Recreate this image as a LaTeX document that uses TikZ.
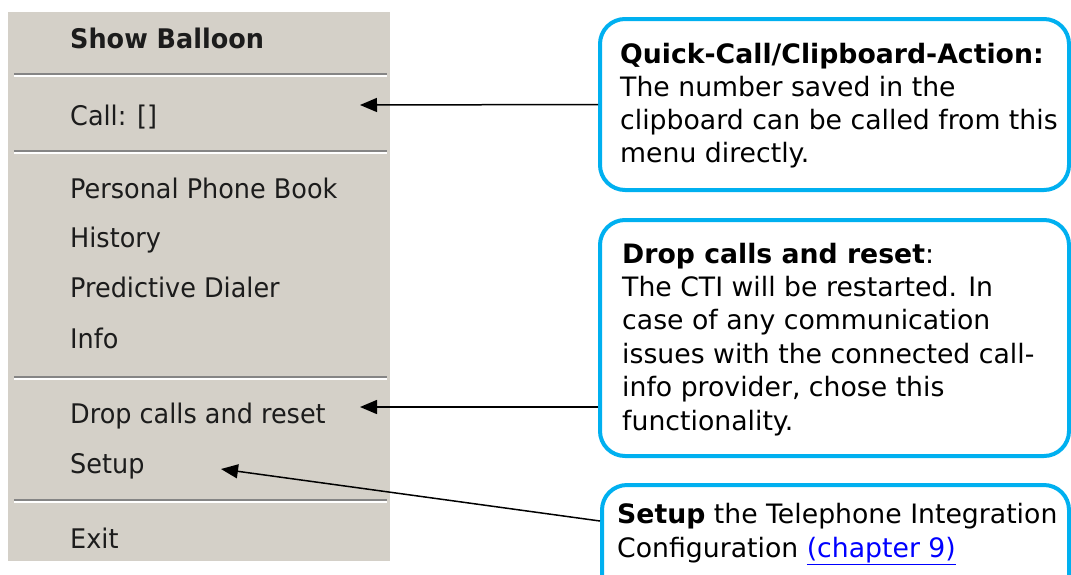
\documentclass[tikz,border=0pt]{standalone}
\usepackage{fontspec}
\setmainfont{DejaVu Sans}
\newfontfamily\menufont[FakeStretch=0.945]{DejaVu Sans}
\usetikzlibrary{arrows.meta}
\definecolor{menugray}{HTML}{D4D0C8}
\definecolor{sepdark}{HTML}{858585}
\definecolor{calloutblue}{HTML}{00B0F0}
\definecolor{linkblue}{HTML}{0000FF}
\definecolor{menutext}{HTML}{1C1C1C}
\newcommand{\linktext}[1]{{\color{linkblue}\underline{#1}}}
\begin{document}
\begin{tikzpicture}[x=1pt,y=-1pt,
  item/.style={anchor=base west, inner sep=0pt, text=menutext,
    font=\menufont\fontsize{27}{32}\selectfont},
  separator/.style={line width=1.6pt},
  callout/.style={draw=calloutblue, line width=4pt, rounded corners=25pt, fill=white, inner sep=0pt},
  notetext/.style={anchor=base west, inner sep=0pt, text=black},
  pointer/.style={draw=black, line width=1.5pt, -{Triangle[length=17pt,width=14pt]}}
]
\useasboundingbox (0,0) rectangle (1071,574);
\fill[white] (0,0) rectangle (1071,574);

% menu panel
\node[fill=menugray, minimum width=382pt, minimum height=549pt, inner sep=0pt, outer sep=0pt, anchor=north west] (menu) at (8,12) {};

\foreach \y in {74,151,377,500}{
  \draw[separator, sepdark] (14,\y) -- (387,\y);
  \draw[separator, white] (14,\y+2) -- (387,\y+2);
}

\node[item, font=\menufont\bfseries\fontsize{27}{32}\selectfont] (show) at (70,48) {Show Balloon};
\node[item] (call) at (70,125) {Call: []};
\node[item] (phone) at (70,198) {Personal Phone Book};
\node[item] (hist) at (70,247) {History};
\node[item] (pred) at (70,297) {Predictive Dialer};
\node[item] (info) at (70,348) {Info};
\node[item] (drop) at (70,423) {Drop calls and reset};
\node[item] (setup) at (70,473) {Setup};
\node[item] (exit) at (70,548) {Exit};

% arrow targets in the menu
\coordinate (calltip) at (360,105);
\coordinate (droptip) at (360,407);
\coordinate (setuptip) at (221,469);

% callout boxes
\node[callout, minimum width=469pt, minimum height=171pt] (qc) at (834.5,104.5) {};
\node[callout, minimum width=469pt, minimum height=236pt] (dr) at (834.5,338) {};
\node[callout, minimum width=467pt, minimum height=155pt] (su) at (835.5,562.5) {};

\node[notetext] (qctext) at (620,63) {\fontsize{26.7}{33.2}\selectfont
  \begin{minipage}[t]{450pt}\raggedright
  \textbf{Quick-Call/Clipboard-Action:}\\
  The number saved in the\\
  clipboard can be called from this\\
  menu directly.
  \end{minipage}};

\node[notetext] (drtext) at (622,263) {\fontsize{26.7}{33.4}\selectfont
  \begin{minipage}[t]{450pt}\raggedright
  \textbf{Drop calls and reset}:\\
  The CTI will be restarted. In\\
  case of any communication\\
  issues with the connected call-\\
  info provider, chose this\\
  functionality.
  \end{minipage}};

\node[notetext] (sutext) at (617,523) {\fontsize{26.7}{34}\selectfont
  \begin{minipage}[t]{450pt}\raggedright
  \textbf{Setup} the Telephone Integration\\
  Configuration \linktext{(chapter 9)}
  \end{minipage}};

% connectors
\draw[pointer] (qc.west) -- (calltip);
\draw[pointer] (dr.west |- droptip) -- (droptip);
\draw[pointer] (su.west |- 0,521) -- (setuptip);
\end{tikzpicture}
\end{document}
